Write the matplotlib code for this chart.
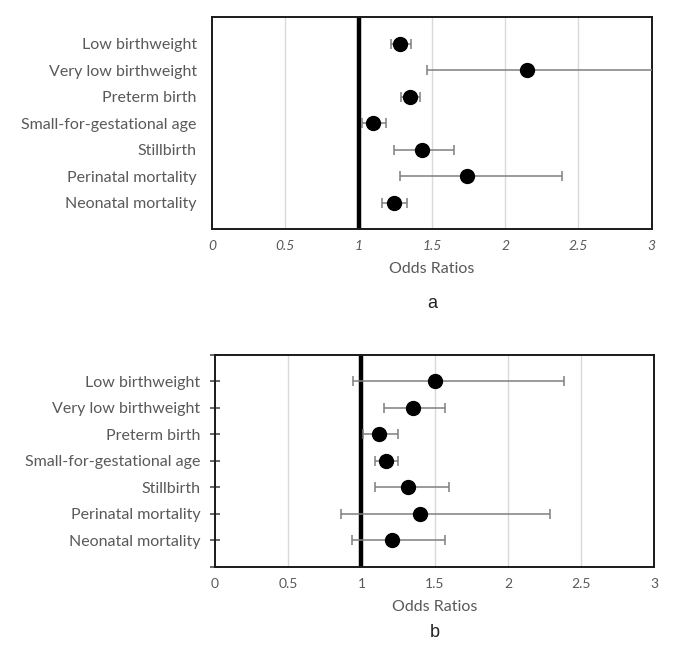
import matplotlib.pyplot as plt
import numpy as np

outcomes = ['Low birthweight', 'Very low birthweight', 'Preterm birth',
            'Small-for-gestational age', 'Stillbirth', 'Perinatal mortality',
            'Neonatal mortality']

# panel a
or_a = [1.28, 2.15, 1.35, 1.10, 1.43, 1.74, 1.24]
lo_a = [1.22, 1.47, 1.29, 1.02, 1.24, 1.28, 1.16]
hi_a = [1.355, 3.10, 1.42, 1.19, 1.65, 2.39, 1.33]

# panel b
or_b = [1.50, 1.35, 1.12, 1.165, 1.32, 1.40, 1.21]
lo_b = [0.94, 1.156, 1.01, 1.09, 1.09, 0.858, 0.936]
hi_b = [2.385, 1.57, 1.25, 1.247, 1.60, 2.285, 1.573]

xticks = [0, 0.5, 1, 1.5, 2, 2.5, 3]
xticklabels = ['0', '0.5', '1', '1.5', '2', '2.5', '3']

plt.rcParams['font.family'] = ['Lato', 'DejaVu Sans']
grey = '#595959'

fig = plt.figure(figsize=(6.85, 6.47), dpi=100)


def panel(ax, ors, lo, hi, letter, letter_y, italic, yticks_on):
    y = np.arange(len(outcomes), 0, -1)
    ors = np.array(ors)
    err = [ors - np.array(lo), np.array(hi) - ors]
    ax.set_xlim(0, 3)
    ax.set_ylim(0, 8)
    for g in [0.5, 1.5, 2, 2.5]:
        ax.axvline(g, color='#d9d9d9', lw=1, zorder=0)
    ax.axvline(1, color='black', lw=3.2, zorder=2)
    ax.errorbar(ors, y, xerr=err, fmt='o', color='black', ms=10,
                ecolor='#7f7f7f', elinewidth=1.1, capsize=3.5, capthick=1.1,
                zorder=3)
    ax.set_xticks(xticks)
    ax.set_xticklabels(xticklabels, color=grey, fontsize=10,
                       style='italic' if italic else 'normal')
    ax.tick_params(axis='x', length=0, pad=8)
    if yticks_on:
        ax.set_yticks(list(range(0, 9)))
        ax.set_yticklabels([''] + list(outcomes[::-1]) + [''])
        ax.tick_params(axis='y', direction='inout', length=7, width=1.1,
                       color='#404040', pad=7)
    else:
        ax.set_yticks(y)
        ax.set_yticklabels(outcomes)
        ax.tick_params(axis='y', length=0, pad=11)
    for lab in ax.get_yticklabels():
        lab.set_color(grey)
        lab.set_fontsize(11.5)
    for s in ax.spines.values():
        s.set_linewidth(1.4)
        s.set_color('#1a1a1a')
    ax.set_xlabel('Odds Ratios', color=grey, fontsize=11.5, labelpad=7)
    ax.text(0.5, letter_y, letter, transform=ax.transAxes, ha='center',
            va='center', fontsize=13, family='Liberation Sans', color='#222222')


ax1 = fig.add_axes([0.3095, 0.6461, 0.6419, 0.3272])
panel(ax1, or_a, lo_a, hi_a, 'a', -0.35, True, False)

ax2 = fig.add_axes([0.3139, 0.1236, 0.6413, 0.3281])
panel(ax2, or_b, lo_b, hi_b, 'b', -0.31, False, True)

fig.savefig('out.png', dpi=100)
